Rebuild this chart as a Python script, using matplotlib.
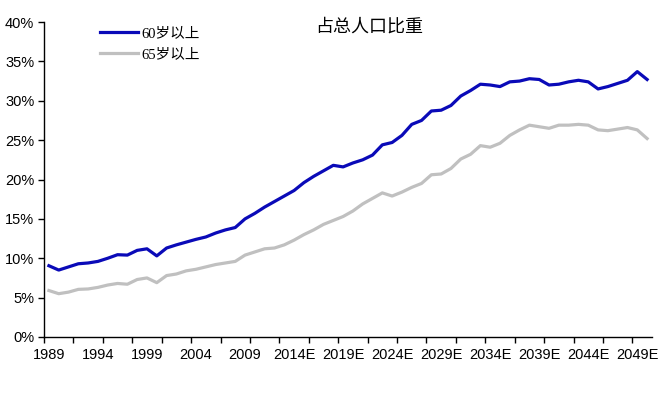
import matplotlib
matplotlib.use("Agg")
import matplotlib.pyplot as plt
import numpy as np

plt.rcParams['font.family'] = ['Liberation Sans', 'Noto Sans CJK SC']

# 1989 .. 2050, values in %
years = list(range(1989, 2051))
tick_labels = ["1989", "1994", "1999", "2004", "2009", "2014E", "2019E",
               "2024E", "2029E", "2034E", "2039E", "2044E", "2049E"]

above_60 = [9.05, 8.5, 8.9, 9.3, 9.4, 9.6, 10.0, 10.45, 10.4, 11.0,
            11.2, 10.3, 11.3, 11.7, 12.05, 12.4, 12.7, 13.2, 13.6, 13.9,
            15.0, 15.7, 16.5, 17.2, 17.9, 18.6, 19.6, 20.4, 21.1, 21.8,
            21.6, 22.1, 22.5, 23.1, 24.4, 24.7, 25.6, 27.0, 27.5, 28.7,
            28.8, 29.4, 30.6, 31.3, 32.1, 32.0, 31.8, 32.4, 32.5, 32.8,
            32.7, 32.0, 32.1, 32.4, 32.6, 32.4, 31.5, 31.8, 32.2, 32.6,
            33.7, 32.7]

above_65 = [5.9, 5.5, 5.7, 6.05, 6.1, 6.3, 6.6, 6.8, 6.7, 7.3,
            7.5, 6.9, 7.8, 8.0, 8.4, 8.6, 8.9, 9.2, 9.4, 9.6,
            10.4, 10.8, 11.2, 11.3, 11.7, 12.3, 13.0, 13.6, 14.3, 14.8,
            15.3, 16.0, 16.9, 17.6, 18.3, 17.9, 18.4, 19.0, 19.5, 20.6,
            20.7, 21.4, 22.6, 23.2, 24.3, 24.1, 24.6, 25.6, 26.3, 26.9,
            26.7, 26.5, 26.9, 26.9, 27.0, 26.9, 26.3, 26.2, 26.4, 26.6,
            26.3, 25.2]

x = np.arange(len(years))

fig = plt.figure(figsize=(6.6, 4), dpi=100)
ax = fig.add_axes([44/660, 63/400, 608/660, 315/400])

ax.plot(x, above_60, color='#0a0ab8', lw=2.3, label='60岁以上')
ax.plot(x, above_65, color='#c0c0c0', lw=2.3, label='65岁以上')

ax.set_xlim(-0.5, len(years) - 0.5)
ax.set_ylim(0, 40)
ax.set_yticks(range(0, 41, 5))
ax.set_yticklabels([f"{v}%" for v in range(0, 41, 5)], fontsize=10.5)

# category axis: marks every 3 years, labels every 5 years
ax.set_xticks(np.arange(-0.5, len(years), 3))
ax.set_xticks(np.arange(0, len(years), 5), minor=True)
ax.set_xticklabels([])
ax.set_xticklabels(tick_labels, minor=True, fontsize=10.5)
ax.tick_params(axis='x', which='major', direction='out', length=4, width=1)
ax.tick_params(axis='x', which='minor', length=0, pad=8)
ax.tick_params(axis='y', direction='out', length=4, width=1, pad=3)

for s in ['top', 'right']:
    ax.spines[s].set_visible(False)
ax.spines['left'].set_linewidth(1)
ax.spines['bottom'].set_linewidth(1)

fig.text(369/660, 1 - 27/400, '占总人口比重', ha='center', va='center',
         fontsize=13, family=['Noto Sans CJK SC'])

ax.legend(loc='upper left', bbox_to_anchor=(93/660, 1 - 20/400),
          bbox_transform=fig.transFigure, frameon=False,
          handlelength=2.6, handletextpad=0.25, labelspacing=0.5,
          borderpad=0, prop={'family': ['Liberation Serif', 'Noto Sans CJK SC'],
                             'size': 10.5})

fig.savefig('out.png', dpi=100)
